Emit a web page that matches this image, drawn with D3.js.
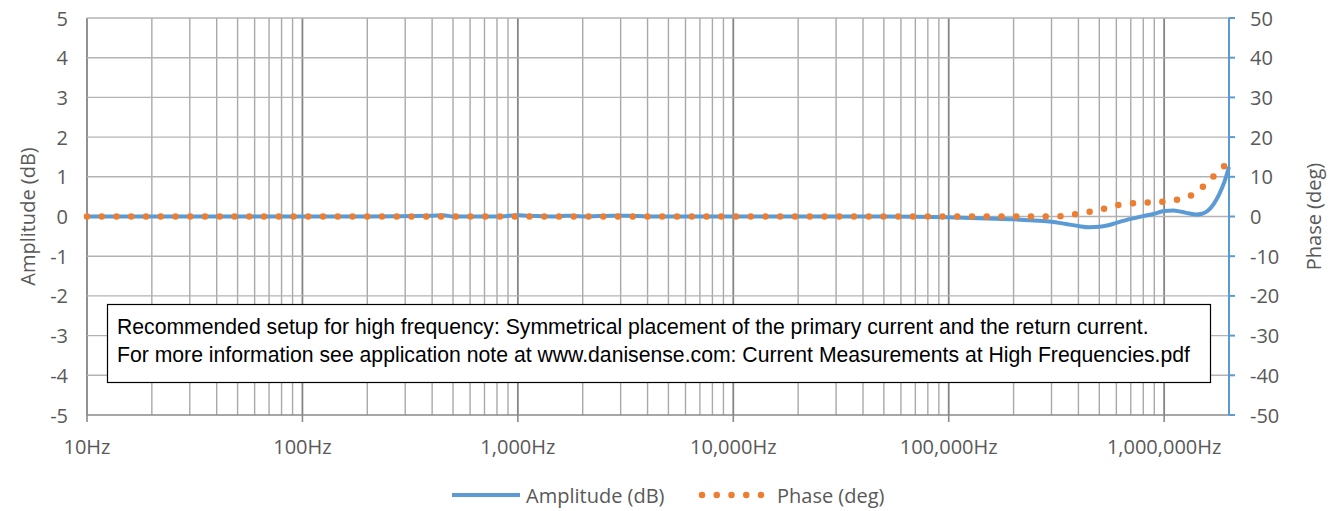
<!DOCTYPE html>
<html>
<head>
<meta charset="utf-8">
<script src="https://cdn.jsdelivr.net/npm/d3@7/dist/d3.min.js"></script>
<style>
  body { margin: 0; background: #fff; }
  svg text { font-family: "Open Sans", sans-serif; fill: #595959; }
</style>
</head>
<body>
<svg id="chart" width="1335" height="511"></svg>
<script>
// frequency points (Hz)
const freqHz = [10, 20, 50, 100, 200, 400, 450, 500, 800, 1000, 1100, 1500, 1700, 2000, 2800, 3200, 4000,
  10000, 20000, 50000, 100000, 150000, 200000, 250000, 300000, 350000, 400000, 450000, 500000, 550000,
  600000, 700000, 800000, 900000, 1000000, 1100000, 1200000, 1300000, 1400000, 1500000, 1600000,
  1700000, 1800000, 1900000, 2000000];
// amplitude (dB)
const amplitude = [0, 0, 0, 0, 0, 0.02, 0.03, 0, 0, 0.03, 0.02, 0, 0.02, 0, 0.02, 0.02, 0,
  0, 0, 0, -0.02, -0.05, -0.07, -0.1, -0.13, -0.19, -0.24, -0.27, -0.26, -0.22,
  -0.16, -0.06, 0.01, 0.07, 0.14, 0.15, 0.12, 0.08, 0.05, 0.07, 0.15,
  0.32, 0.56, 0.86, 1.25];
// phase (deg)
const phase = [0, 0, 0, 0, 0, 0, 0, 0, 0, 0, 0, 0, 0, 0, 0, 0, 0,
  0, 0, 0, 0, 0, 0, 0, 0, 0.2, 0.7, 1.2, 1.6, 2.3,
  2.8, 3.3, 3.5, 3.5, 3.8, 4.1, 4.4, 5.0, 6.0, 7.3, 8.8,
  10.2, 11.5, 12.7, 13.8];

const xTicks = [10, 100, 1000, 10000, 100000, 1000000];
const ampTicks = [-5, -4, -3, -2, -1, 0, 1, 2, 3, 4, 5];
const phaseTicks = [-50, -40, -30, -20, -10, 0, 10, 20, 30, 40, 50];
const seriesNames = ['Amplitude (dB)', 'Phase (deg)'];
const noteLines = [
  'Recommended setup for high frequency: Symmetrical placement of the primary current and the return current.',
  'For more information see application note at www.danisense.com: Current Measurements at High Frequencies.pdf'
];

const blue = '#5b9bd5', orange = '#ed7d31';
const pl = 87, pr = 1229, pt = 18, pb = 415;

const svg = d3.select('#chart');

const x = d3.scaleLog().domain([10, 2e6]).range([pl, pr]);
const yA = d3.scaleLinear().domain([-5, 5]).range([pb, pt]);
const yP = d3.scaleLinear().domain([-50, 50]).range([pb, pt]);

// vertical grid: 1..9 per decade
let minor = [];
for (let d = 10; d < 2e6; d *= 10) {
  for (let m = 1; m <= 9; m++) {
    let f = d * m;
    if (f <= 2e6) minor.push(f);
  }
}
const grid = svg.append('g');
grid.selectAll('line.v')
  .data(minor)
  .join('line')
  .attr('x1', d => x(d)).attr('x2', d => x(d))
  .attr('y1', pt).attr('y2', pb)
  .attr('stroke', d => xTicks.includes(d) ? '#858585' : '#a9a9a9')
  .attr('stroke-width', d => xTicks.includes(d) ? 1.8 : 1.4);

grid.selectAll('line.h')
  .data(ampTicks.filter(d => d > -5))
  .join('line')
  .attr('x1', pl).attr('x2', pr)
  .attr('y1', d => yA(d)).attr('y2', d => yA(d))
  .attr('stroke', '#b3b3b3')
  .attr('stroke-width', 1.4);

// x axis
const xAxis = svg.append('g');
xAxis.append('line')
  .attr('x1', pl).attr('x2', pr)
  .attr('y1', pb).attr('y2', pb)
  .attr('stroke', '#8a8a8a').attr('stroke-width', 1.6);
xAxis.selectAll('line.tk')
  .data(xTicks)
  .join('line')
  .attr('x1', d => x(d)).attr('x2', d => x(d))
  .attr('y1', pb).attr('y2', pb + 7)
  .attr('stroke', '#8a8a8a').attr('stroke-width', 1.6);
xAxis.selectAll('text')
  .data(xTicks)
  .join('text')
  .attr('x', d => x(d))
  .attr('y', 446)
  .attr('text-anchor', 'middle')
  .attr('dominant-baseline', 'central')
  .attr('font-size', 20)
  .text(d => d3.format(',')(d) + 'Hz');

// left ticks
svg.append('g').selectAll('text')
  .data(ampTicks)
  .join('text')
  .attr('x', 68)
  .attr('y', d => yA(d))
  .attr('text-anchor', 'end')
  .attr('dominant-baseline', 'central')
  .attr('font-size', 20)
  .text(d => d);

svg.append('text')
  .attr('transform', `translate(27,${yA(0)}) rotate(-90)`)
  .attr('text-anchor', 'middle')
  .attr('dominant-baseline', 'central')
  .attr('font-size', 20)
  .text(seriesNames[0]);

// right axis (blue)
const rAxis = svg.append('g');
rAxis.append('line')
  .attr('x1', pr).attr('x2', pr)
  .attr('y1', pt).attr('y2', pb)
  .attr('stroke', blue).attr('stroke-width', 2);
rAxis.selectAll('line.tk')
  .data(phaseTicks)
  .join('line')
  .attr('x1', pr).attr('x2', pr + 6)
  .attr('y1', d => yP(d)).attr('y2', d => yP(d))
  .attr('stroke', blue).attr('stroke-width', 2);
rAxis.selectAll('text')
  .data(phaseTicks)
  .join('text')
  .attr('x', 1250)
  .attr('y', d => yP(d))
  .attr('dominant-baseline', 'central')
  .attr('font-size', 20)
  .text(d => d);

svg.append('text')
  .attr('transform', `translate(1313,${yP(0)}) rotate(-90)`)
  .attr('text-anchor', 'middle')
  .attr('dominant-baseline', 'central')
  .attr('font-size', 20)
  .text(seriesNames[1]);

// series
const ampLine = d3.line()
  .x((d, i) => x(freqHz[i]))
  .y(d => yA(d))
  .curve(d3.curveMonotoneX);
const phLine = d3.line()
  .x((d, i) => x(freqHz[i]))
  .y(d => yP(d))
  .curve(d3.curveMonotoneX);

svg.append('path')
  .attr('d', ampLine(amplitude))
  .attr('fill', 'none')
  .attr('stroke', blue)
  .attr('stroke-width', 4)
  .attr('stroke-linejoin', 'round');

svg.append('path')
  .attr('d', phLine(phase))
  .attr('fill', 'none')
  .attr('stroke', orange)
  .attr('stroke-width', 6.5)
  .attr('stroke-linecap', 'round')
  .attr('stroke-dasharray', '0 14.75');

// note box
const note = svg.append('g');
note.append('rect')
  .attr('x', 107.5).attr('y', 304.5)
  .attr('width', 1103).attr('height', 78)
  .attr('fill', '#fff')
  .attr('stroke', '#000')
  .attr('stroke-width', 1.2);
note.selectAll('text')
  .data(noteLines)
  .join('text')
  .attr('x', 117)
  .attr('y', (d, i) => 334 + i * 28)
  .attr('font-size', 21.2)
  .style('font-family', '"Liberation Sans", Arial, sans-serif')
  .style('fill', '#000')
  .text(d => d);

// legend
const lg = svg.append('g');
lg.append('line')
  .attr('x1', 452).attr('x2', 520)
  .attr('y1', 495).attr('y2', 495)
  .attr('stroke', blue).attr('stroke-width', 4);
lg.append('text')
  .attr('x', 526).attr('y', 495)
  .attr('dominant-baseline', 'central')
  .attr('font-size', 20)
  .text(seriesNames[0]);
lg.append('line')
  .attr('x1', 702).attr('x2', 764)
  .attr('y1', 495).attr('y2', 495)
  .attr('stroke', orange).attr('stroke-width', 6.5)
  .attr('stroke-linecap', 'round')
  .attr('stroke-dasharray', '0 14.75');
lg.append('text')
  .attr('x', 777).attr('y', 495)
  .attr('dominant-baseline', 'central')
  .attr('font-size', 20)
  .text(seriesNames[1]);
</script>
</body>
</html>
